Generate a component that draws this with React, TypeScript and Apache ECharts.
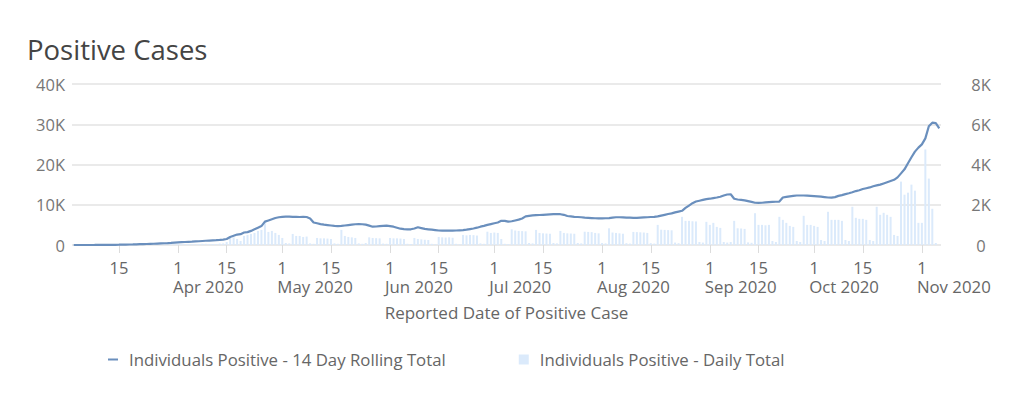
import React, { useEffect, useRef } from 'react';
import * as echarts from 'echarts';

// Categories: daily dates from Mar 2 2020 to Nov 6 2020
const monthNames = ['Mar', 'Apr', 'May', 'Jun', 'Jul', 'Aug', 'Sep', 'Oct', 'Nov'];
const monthFirstDay = [2, 1, 1, 1, 1, 1, 1, 1, 1];
const monthDayCount = [30, 30, 31, 30, 31, 31, 30, 31, 6];

const categories: string[] = [];
monthNames.forEach((m, i) => {
  for (let d = 0; d < monthDayCount[i]; d++) categories.push(`${m} ${monthFirstDay[i] + d} 2020`);
});

// 14 day rolling total (left axis)
const rollingMar = [0, 0, 1, 2, 4, 6, 8, 12, 16, 22, 30, 40, 55, 70, 90, 110, 130, 150, 175, 200, 220, 250, 280, 310, 350, 390, 430, 470, 520, 580];
const rollingApr = [640, 690, 740, 790, 830, 880, 930, 990, 1050, 1100, 1150, 1200, 1270, 1350, 1500, 2000, 2300, 2600, 2700, 3100, 3200, 3500, 3900, 4300, 4700, 5800, 6100, 6400, 6700, 6900];
const rollingMay = [7000, 7050, 7050, 7000, 7000, 6950, 7000, 6950, 6600, 5600, 5400, 5200, 5050, 4950, 4850, 4750, 4700, 4750, 4850, 4950, 5050, 5150, 5200, 5150, 5050, 4800, 4550, 4600, 4700, 4750, 4800];
const rollingJun = [4700, 4550, 4300, 4050, 3950, 3900, 3900, 4100, 4400, 4200, 4000, 3900, 3800, 3700, 3600, 3550, 3550, 3550, 3550, 3600, 3650, 3700, 3800, 3950, 4100, 4300, 4550, 4750, 5000, 5200];
const rollingJul = [5400, 5600, 6000, 6000, 5800, 5900, 6100, 6300, 6600, 7100, 7250, 7350, 7400, 7450, 7500, 7550, 7600, 7650, 7700, 7650, 7500, 7200, 7100, 7000, 6950, 6900, 6800, 6750, 6700, 6650, 6600];
const rollingAug = [6600, 6650, 6700, 6800, 6900, 6900, 6850, 6800, 6800, 6750, 6750, 6800, 6850, 6900, 6950, 7000, 7100, 7300, 7500, 7700, 7850, 8100, 8300, 8500, 9200, 9800, 10400, 10800, 11000, 11200, 11400];
const rollingSep = [11500, 11650, 11800, 12000, 12300, 12550, 12600, 11500, 11300, 11200, 11100, 10900, 10700, 10500, 10450, 10500, 10600, 10650, 10700, 10750, 10800, 11800, 11950, 12100, 12200, 12300, 12300, 12300, 12250, 12200];
const rollingOct = [12150, 12100, 12000, 11900, 11800, 11750, 11900, 12200, 12400, 12650, 12850, 13100, 13400, 13600, 13900, 14100, 14300, 14600, 14800, 15000, 15300, 15600, 15900, 16200, 16800, 17800, 18800, 20300, 21800, 23200, 24200];
const rollingNov = [25000, 26500, 29500, 30400, 30300, 29000];

// Daily total (right axis)
const dailyMar = [0, 0, 1, 1, 2, 2, 2, 4, 4, 6, 8, 10, 15, 15, 20, 20, 20, 20, 25, 25, 20, 30, 30, 30, 40, 40, 40, 40, 50, 60];
const dailyApr = [50, 50, 50, 50, 40, 50, 50, 60, 60, 50, 50, 50, 70, 80, 150, 350, 380, 300, 200, 450, 500, 550, 600, 700, 750, 1200, 650, 700, 600, 500];
const dailyMay = [350, 100, 80, 550, 450, 450, 400, 420, 80, 60, 350, 330, 330, 320, 300, 80, 60, 750, 450, 400, 380, 350, 80, 60, 100, 380, 350, 340, 330, 70, 60];
const dailyJun = [350, 330, 330, 320, 300, 60, 50, 350, 300, 280, 260, 250, 60, 40, 400, 380, 370, 380, 360, 60, 40, 500, 480, 500, 490, 470, 80, 60, 660, 600];
const dailyJul = [620, 600, 300, 60, 50, 780, 720, 700, 690, 680, 100, 80, 750, 600, 580, 570, 560, 100, 80, 700, 600, 580, 570, 560, 100, 80, 660, 650, 640, 600, 580];
const dailyAug = [100, 80, 830, 620, 600, 580, 560, 90, 70, 650, 640, 630, 620, 600, 90, 70, 1000, 760, 750, 740, 730, 120, 90, 1400, 1200, 1200, 1180, 1170, 150, 120, 1150];
const dailySep = [1000, 1100, 900, 850, 150, 120, 150, 1200, 830, 820, 800, 130, 110, 1580, 1000, 1000, 980, 1000, 200, 150, 1400, 1250, 1100, 950, 900, 200, 150, 1450, 1000, 1000];
const dailyOct = [950, 900, 250, 200, 1650, 1250, 1250, 1250, 1200, 250, 200, 1900, 1350, 1300, 1300, 1250, 250, 200, 1900, 1500, 1600, 1500, 1400, 500, 450, 3150, 2500, 2600, 3000, 2700, 1100];
const dailyNov = [1100, 4750, 3300, 1800, 100, 0];

const rollingTotal = [...rollingMar, ...rollingApr, ...rollingMay, ...rollingJun, ...rollingJul, ...rollingAug, ...rollingSep, ...rollingOct, ...rollingNov];
const dailyTotal = [...dailyMar, ...dailyApr, ...dailyMay, ...dailyJun, ...dailyJul, ...dailyAug, ...dailySep, ...dailyOct, ...dailyNov];

const leftTicks = [0, 10000, 20000, 30000, 40000];
const rightTicks = [0, 2000, 4000, 6000, 8000];

const LINE_NAME = 'Individuals Positive - 14 Day Rolling Total';
const BAR_NAME = 'Individuals Positive - Daily Total';
const FONT = 'Open Sans';

const dayOf = (v: string) => Number(v.split(' ')[1]);
const monthOf = (v: string) => v.split(' ')[0];
const isTickDay = (_i: number, v: string) => dayOf(v) === 1 || dayOf(v) === 15;
const isMonthStart = (_i: number, v: string) => dayOf(v) === 1;
const kFmt = (v: number) => (v === 0 ? '0' : `${v / 1000}K`);

export default function App() {
  const ref = useRef<HTMLDivElement>(null);
  useEffect(() => {
    const chart = echarts.init(ref.current!, undefined, { renderer: 'svg' });
    chart.setOption({
      animation: false,
      textStyle: { fontFamily: FONT },
      title: {
        text: 'Positive Cases',
        left: 27,
        top: 35,
        padding: 0,
        textStyle: { fontSize: 27.5, fontWeight: 'normal', color: '#444', fontFamily: FONT },
      },
      grid: { left: 72, right: 81, top: 84, bottom: 157, containLabel: false },
      legend: {
        left: 103,
        top: 346,
        itemWidth: 10,
        itemHeight: 10,
        itemGap: 73,
        data: [
          { name: LINE_NAME, icon: 'path://M0,0H10V2H0Z', itemStyle: { borderWidth: 0 } },
          { name: BAR_NAME, icon: 'rect', itemStyle: { borderWidth: 0 } },
        ],
        textStyle: { color: '#666', fontSize: 16.8, fontFamily: FONT, padding: [0, 0, 0, 6] },
      },
      xAxis: [
        {
          type: 'category',
          data: categories,
          boundaryGap: true,
          axisLine: { show: false },
          axisTick: {
            show: true,
            alignWithLabel: true,
            interval: isTickDay,
            length: 8,
            lineStyle: { color: '#dcdcdc' },
          },
          axisLabel: {
            interval: isTickDay,
            formatter: (v: string) => String(dayOf(v)),
            color: '#666',
            fontSize: 16.5,
            lineHeight: 15,
            margin: 15,
            fontFamily: FONT,
          },
          splitLine: { show: false },
          name: 'Reported Date of Positive Case',
          nameLocation: 'middle',
          nameGap: 59,
          nameTextStyle: { color: '#666', fontSize: 17, fontFamily: FONT },
        },
        {
          type: 'category',
          data: categories,
          position: 'bottom',
          offset: 17,
          boundaryGap: true,
          axisLine: { show: false },
          axisTick: { show: false },
          axisLabel: {
            interval: isMonthStart,
            formatter: (v: string) => `${monthOf(v)} 2020`,
            align: 'left',
            padding: [0, 0, 0, -5],
            color: '#666',
            fontSize: 16.8,
            lineHeight: 15,
            margin: 16.5,
            fontFamily: FONT,
          },
          splitLine: { show: false },
        },
      ],
      yAxis: [
        {
          type: 'value',
          min: leftTicks[0],
          max: leftTicks[leftTicks.length - 1],
          interval: leftTicks[1] - leftTicks[0],
          axisLine: { show: false },
          axisTick: { show: false },
          axisLabel: { formatter: kFmt, color: '#777', fontSize: 16.5, margin: 7, fontFamily: FONT },
          splitLine: { lineStyle: { color: '#e3e3e3', width: 1.5 } },
        },
        {
          type: 'value',
          position: 'right',
          min: rightTicks[0],
          max: rightTicks[rightTicks.length - 1],
          interval: rightTicks[1] - rightTicks[0],
          axisLine: { show: false },
          axisTick: { show: false },
          axisLabel: { formatter: kFmt, color: '#777', fontSize: 16.5, margin: 40, align: 'center', fontFamily: FONT },
          splitLine: { show: false },
        },
      ],
      series: [
        {
          name: LINE_NAME,
          type: 'line',
          data: rollingTotal,
          xAxisIndex: 0,
          yAxisIndex: 0,
          showSymbol: false,
          symbol: 'none',
          z: 3,
          color: '#6a8fbd',
          lineStyle: { color: '#6a8fbd', width: 2.2 },
        },
        {
          name: BAR_NAME,
          type: 'bar',
          data: dailyTotal,
          xAxisIndex: 0,
          yAxisIndex: 1,
          barWidth: 2,
          z: 2,
          color: '#dbeafb',
          itemStyle: { color: '#dbeafb' },
        },
      ],
    });
    return () => chart.dispose();
  }, []);
  return (
    <div
      ref={ref}
      style={{ position: 'fixed', left: 0, top: 0, width: 1022, height: 402, background: '#fff' }}
    />
  );
}
